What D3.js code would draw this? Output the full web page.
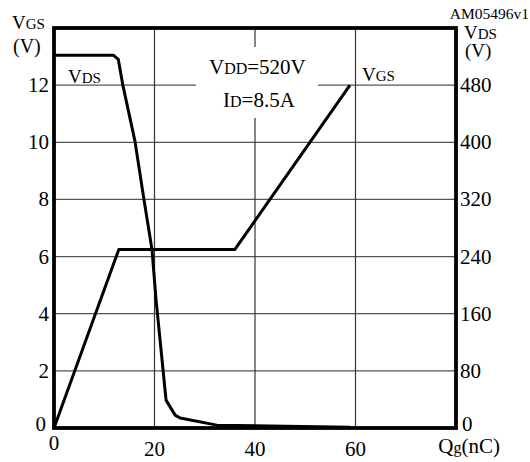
<!DOCTYPE html>
<html>
<head>
<meta charset="utf-8">
<script src="https://cdn.jsdelivr.net/npm/d3@7"></script>
<style>
  body { margin: 0; background: #fff; }
  svg text { font-family: "Liberation Serif", "DejaVu Serif", serif; fill: #000; }
</style>
</head>
<body>
<div id="chart"></div>
<script>
// gate charge data
var qTicks = [0, 20, 40, 60];
var vgsTicks = [0, 2, 4, 6, 8, 10, 12];
var vdsTicks = [0, 80, 160, 240, 320, 400, 480];

var vgsQ = [0, 12.9, 36.0, 58.9];
var vgsV = [0, 6.25, 6.25, 12.0];

var vdsQ = [0, 11.8, 12.8, 13.7, 16.1, 17.9, 19.5, 20.3, 22.3, 24.1, 25.1, 32.4, 58.9];
var vdsV = [522, 522, 516, 480, 402, 320, 250, 180, 39, 18, 14, 4, 1];

var width = 530, height = 462;
var plotLeft = 54, plotRight = 456, plotTop = 28, plotBottom = 428;

var svg = d3.select('#chart').append('svg')
  .attr('width', width)
  .attr('height', height)
  .attr('font-family', '"Liberation Serif", serif');

var x = d3.scaleLinear().domain([0, 80]).range([plotLeft, plotRight]);
var yL = d3.scaleLinear().domain([0, 14]).range([plotBottom, plotTop]);
var yR = d3.scaleLinear().domain([0, 560]).range([plotBottom, plotTop]);

// grid
svg.selectAll('.hgrid').data(vgsTicks.filter(function(d){ return d > 0; }))
  .enter().append('line')
  .attr('x1', plotLeft).attr('x2', plotRight)
  .attr('y1', function(d){ return yL(d); })
  .attr('y2', function(d){ return yL(d); })
  .attr('stroke', '#555').attr('stroke-width', 1.2);

svg.selectAll('.vgrid').data(qTicks.filter(function(d){ return d > 0; }))
  .enter().append('line')
  .attr('y1', plotTop).attr('y2', plotBottom)
  .attr('x1', function(d){ return x(d); })
  .attr('x2', function(d){ return x(d); })
  .attr('stroke', '#333').attr('stroke-width', 1.2);

// white box behind the condition text
svg.append('rect')
  .attr('x', 196).attr('y', 47)
  .attr('width', 122).attr('height', 71)
  .attr('fill', '#fff');

// curves
var line = d3.line().x(function(d){ return d[0]; }).y(function(d){ return d[1]; });

var vgsPts = vgsQ.map(function(q, i){ return [x(q), yL(vgsV[i])]; });
var vdsPts = vdsQ.map(function(q, i){ return [x(q), yR(vdsV[i])]; });

svg.append('path').attr('d', line(vgsPts))
  .attr('fill', 'none').attr('stroke', '#000').attr('stroke-width', 3)
  .attr('stroke-linejoin', 'round');
svg.append('path').attr('d', line(vdsPts))
  .attr('fill', 'none').attr('stroke', '#000').attr('stroke-width', 3)
  .attr('stroke-linejoin', 'round');

// frame
svg.append('rect')
  .attr('x', plotLeft).attr('y', plotTop)
  .attr('width', plotRight - plotLeft).attr('height', plotBottom - plotTop)
  .attr('fill', 'none').attr('stroke', '#000').attr('stroke-width', 3.8);

// tick labels
svg.selectAll('.lt').data(vgsTicks).enter().append('text')
  .attr('x', function(d){ return d === 0 ? plotLeft - 8 : plotLeft - 5; })
  .attr('y', function(d){ return yL(d) + (d === 0 ? 3 : 7); })
  .attr('text-anchor', 'end')
  .attr('font-size', 21)
  .text(function(d){ return d; });

svg.selectAll('.rt').data(vdsTicks).enter().append('text')
  .attr('x', function(d){ return d === 0 ? plotRight + 6 : plotRight + 4; })
  .attr('y', function(d){ return yR(d) + (d === 0 ? 3 : 7); })
  .attr('text-anchor', 'start')
  .attr('font-size', 21)
  .text(function(d){ return d; });

svg.selectAll('.bt').data(qTicks).enter().append('text')
  .attr('x', function(d){ return x(d); })
  .attr('y', function(d){ return d === 0 ? 450 : 456; })
  .attr('text-anchor', 'middle')
  .attr('font-size', 21)
  .text(function(d){ return d; });

// labels with small subscripts
var label = function(px, py, parts, anchor){
  var t = svg.append('text').attr('x', px).attr('y', py)
    .attr('text-anchor', anchor || 'start');
  parts.forEach(function(p){
    t.append('tspan').attr('font-size', p[1]).text(p[0]);
  });
  return t;
};

label(12, 29, [['V', 19], ['GS', 15]]);
label(13, 53, [['(V)', 20]]);
label(464, 39, [['V', 19], ['DS', 15]]);
label(465, 57, [['(V)', 19]]);
label(68, 83, [['V', 19], ['DS', 15]]);
label(362, 81, [['V', 19], ['GS', 15]]);
label(209, 74, [['V', 21], ['DD', 16], ['=520V', 21]]);
label(223, 107, [['I', 21], ['D', 16], ['=8.5A', 21]]);
label(500, 453, [['Q', 21], ['g', 16], ['(nC)', 21]], 'end');

svg.append('text')
  .attr('x', 529).attr('y', 19)
  .attr('text-anchor', 'end')
  .attr('font-size', 15.5)
  .text('AM05496v1');
</script>
</body>
</html>
